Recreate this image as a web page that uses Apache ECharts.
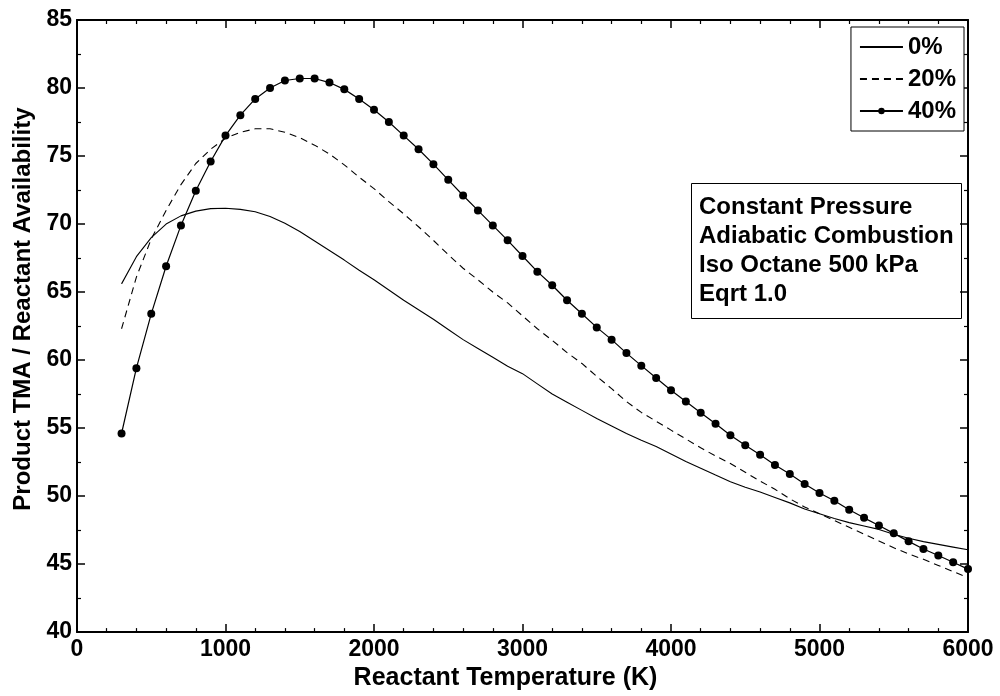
<!DOCTYPE html>
<html>
<head>
<meta charset="utf-8">
<script src="https://cdn.jsdelivr.net/npm/echarts@6/dist/echarts.min.js"></script>
<style>
html,body{margin:0;padding:0;background:#fff;}
#chart{width:1000px;height:696px;}
</style>
</head>
<body>
<div id="chart"></div>
<script>
// Reactant temperature (K)
const temps40 = [300,400,500,600,700,800,900,1000,1100,1200,1300,1400,1500,1600,1700,1800,1900,2000,
  2100,2200,2300,2400,2500,2600,2700,2800,2900,3000,3100,3200,3300,3400,3500,3600,3700,3800,3900,4000,
  4100,4200,4300,4400,4500,4600,4700,4800,4900,5000,5100,5200,5300,5400,5500,5600,5700,5800,5900,6000];
const tempsCurve = temps40;

// Series values (Product TMA / Reactant Availability)
const s0 = [65.6,67.6,69.0,70.0,70.6,70.95,71.13,71.16,71.08,70.9,70.55,70.05,69.45,68.75,68.05,67.35,66.6,65.9,
  65.15,64.4,63.7,63.0,62.25,61.5,60.85,60.2,59.55,59.0,58.25,57.5,56.9,56.3,55.7,55.15,54.6,54.1,53.65,53.1,
  52.55,52.05,51.55,51.06,50.65,50.3,49.9,49.5,49.05,48.7,48.35,48.05,47.8,47.55,47.2,46.9,46.65,46.45,46.25,46.05];
const s20 = [62.3,66.1,68.9,71.0,72.9,74.45,75.5,76.3,76.75,77.0,77.0,76.75,76.35,75.8,75.15,74.35,73.45,72.6,
  71.65,70.75,69.8,68.8,67.75,66.75,65.9,65.0,64.2,63.25,62.3,61.45,60.55,59.75,58.8,57.9,56.95,56.15,55.5,54.85,
  54.2,53.55,52.95,52.4,51.75,51.1,50.5,49.8,49.2,48.7,48.2,47.7,47.2,46.7,46.2,45.75,45.35,44.9,44.45,44.0];
const s40 = [54.6,59.4,63.4,66.9,69.9,72.45,74.6,76.5,78.0,79.2,80.0,80.55,80.7,80.7,80.4,79.9,79.2,78.4,
  77.5,76.5,75.5,74.4,73.25,72.1,71.0,69.9,68.8,67.65,66.5,65.5,64.4,63.4,62.4,61.5,60.51,59.59,58.68,57.78,
  56.95,56.13,55.32,54.47,53.74,53.03,52.28,51.62,50.89,50.23,49.65,48.99,48.4,47.84,47.26,46.67,46.11,45.63,45.14,44.63];

const seriesNames = ['0%','20%','40%'];
const xTitle = 'Reactant Temperature (K)';
const yTitle = 'Product TMA / Reactant Availability';
const noteLines = ['Constant Pressure','Adiabatic Combustion','Iso Octane 500 kPa','Eqrt 1.0'];

const FONT = '"Liberation Sans", Arial, sans-serif';
const pairs = (xs, ys) => xs.map((x, i) => [x, ys[i]]);

const axisCommon = {
  type: 'value',
  axisLine: { show: true, onZero: false, lineStyle: { color: '#000', width: 2 } },
  axisTick: { show: true, inside: true, length: 8, lineStyle: { color: '#000', width: 1.5 } },
  minorTick: { show: true, length: 4, lineStyle: { color: '#000', width: 1.2 } },
  splitLine: { show: false },
  minorSplitLine: { show: false }
};
const plainNum = v => String(v);
const hiddenDot = { color: 'rgba(0,0,0,0)', borderWidth: 0, opacity: 0 };

const chart = echarts.init(document.getElementById('chart'), null, { renderer: 'canvas' });
chart.setOption({
  animation: false,
  backgroundColor: '#fff',
  textStyle: { fontFamily: FONT },
  grid: { left: 77, right: 32, top: 20, bottom: 59, containLabel: false },
  title: {
    text: noteLines.join('\n'),
    left: 691, top: 183,
    padding: [10, 8, 10, 8],
    borderColor: '#000', borderWidth: 1,
    textStyle: { fontFamily: FONT, fontSize: 24, fontWeight: 'bold', color: '#000', lineHeight: 29 }
  },
  legend: {
    data: [
      { name: seriesNames[0], itemStyle: hiddenDot },
      { name: seriesNames[1], itemStyle: hiddenDot },
      { name: seriesNames[2] }
    ],
    orient: 'vertical',
    right: 36, top: 27,
    padding: [8, 8, 8, 8],
    itemGap: 8,
    itemWidth: 43, itemHeight: 8,
    borderColor: '#000', borderWidth: 1,
    backgroundColor: '#fff',
    textStyle: { fontFamily: FONT, fontSize: 24, fontWeight: 'bold', color: '#000', lineHeight: 23 }
  },
  xAxis: [
    Object.assign({}, axisCommon, {
      min: 0, max: 6000, interval: 1000, position: 'bottom',
      minorTick: Object.assign({}, axisCommon.minorTick, { splitNumber: 5 }),
      axisLabel: { fontFamily: FONT, fontSize: 23, fontWeight: 'bold', color: '#000', margin: 6, formatter: plainNum },
      name: xTitle, nameLocation: 'middle', nameGap: 31,
      nameTextStyle: { fontFamily: FONT, fontSize: 25, fontWeight: 'bold', color: '#000', padding: [0, 34, 0, 0] }
    }),
    Object.assign({}, axisCommon, {
      min: 0, max: 6000, interval: 1000, position: 'top',
      minorTick: Object.assign({}, axisCommon.minorTick, { splitNumber: 5 }),
      axisLabel: { show: false }
    })
  ],
  yAxis: [
    Object.assign({}, axisCommon, {
      min: 40, max: 85, interval: 5, position: 'left',
      minorTick: Object.assign({}, axisCommon.minorTick, { splitNumber: 2 }),
      axisLabel: { fontFamily: FONT, fontSize: 23, fontWeight: 'bold', color: '#000', margin: 5, formatter: plainNum },
      name: yTitle, nameLocation: 'middle', nameGap: 42,
      nameTextStyle: { fontFamily: FONT, fontSize: 24, fontWeight: 'bold', color: '#000', padding: [0, 0, 0, 34] }
    }),
    Object.assign({}, axisCommon, {
      min: 40, max: 85, interval: 5, position: 'right',
      minorTick: Object.assign({}, axisCommon.minorTick, { splitNumber: 2 }),
      axisLabel: { show: false }
    })
  ],
  series: [
    {
      name: seriesNames[0], type: 'line', xAxisIndex: 0, yAxisIndex: 0,
      data: pairs(tempsCurve, s0),
      symbol: 'none', showSymbol: false,
      lineStyle: { color: '#000', width: 1.1 },
      itemStyle: { color: '#000' }
    },
    {
      name: seriesNames[1], type: 'line', xAxisIndex: 0, yAxisIndex: 0,
      data: pairs(tempsCurve, s20),
      symbol: 'none', showSymbol: false,
      lineStyle: { color: '#000', width: 1.1, type: [7, 5] },
      itemStyle: { color: '#000' }
    },
    {
      name: seriesNames[2], type: 'line', xAxisIndex: 0, yAxisIndex: 0,
      data: pairs(temps40, s40),
      symbol: 'circle', symbolSize: 8, showSymbol: true,
      lineStyle: { color: '#000', width: 1.2 },
      itemStyle: { color: '#000' }
    }
  ]
});
</script>
</body>
</html>
